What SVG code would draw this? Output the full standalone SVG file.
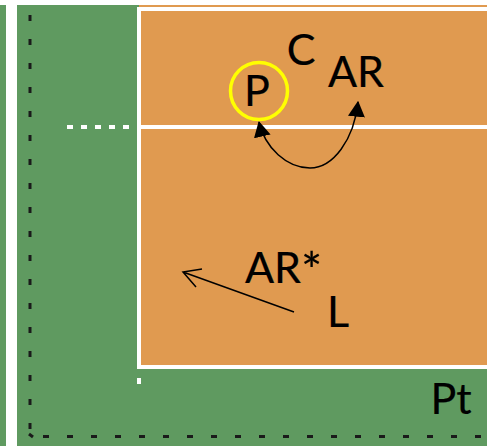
<svg xmlns="http://www.w3.org/2000/svg" width="487" height="446" viewBox="0 0 487 446">
<defs>
<style>
text{font-family:"Lato","Carlito","Open Sans",sans-serif;font-size:43px;fill:#000;stroke:#000;stroke-width:.2}
.w{stroke:#fff;stroke-width:4;fill:none}
.d{stroke:#1a1a1a;stroke-width:3;fill:none;stroke-dasharray:6 18}
.c{stroke:#000;stroke-width:1.500;fill:none}
</style>
<marker id="a" viewBox="0 0 14 15" refX="13" refY="7.500" markerWidth="16" markerHeight="17" markerUnits="userSpaceOnUse" orient="auto-start-reverse"><path d="M0 0L14 7.500L0 15Z" fill="#000"/></marker>
</defs>
<rect width="487" height="446" fill="#fff"/>
<g id="court">
<rect x="0" y="5" width="6" height="441" fill="#5f9a60"/>
<rect x="17" y="5" width="470" height="441" fill="#5f9a60"/>
<rect x="139" y="5" width="348" height="362" fill="#e09a50"/>
<path class="w" d="M487 9H139V367H487"/>
<path class="w" d="M139 127H487"/>
<path class="w" d="M67 127H130" stroke-dasharray="6 8"/>
<path class="w" d="M139 378V384"/>
<path class="d" d="M30 15V431"/>
<path class="d" d="M43 436.500H487"/>
<path d="M29 434L33 437" stroke="#1a1a1a" stroke-width="3" fill="none"/>
</g>
<g id="connectors">
<path class="c" marker-start="url(#a)" marker-end="url(#a)" d="M259 122C265 148 287 168 310 168C333 168 354 140 358 102"/>
<path class="c" d="M294 312L183 272M202 269L183 272L196 287"/>
</g>
<g id="node-p"><circle cx="259" cy="91" r="28.500" fill="none" stroke="#ff0" stroke-width="3.500"/><text x="257" y="106" text-anchor="middle">P</text></g>
<g id="node-c"><text x="301" y="65" text-anchor="middle">C</text></g>
<g id="node-ar"><text x="356" y="87" text-anchor="middle">AR</text></g>
<g id="node-ar2"><text x="245" y="283">AR<tspan font-size="50" dy="6">*</tspan></text></g>
<g id="node-l"><text x="338" y="327" text-anchor="middle">L</text></g>
<g id="node-pt"><text x="451" y="414" text-anchor="middle">Pt</text></g>
</svg>
